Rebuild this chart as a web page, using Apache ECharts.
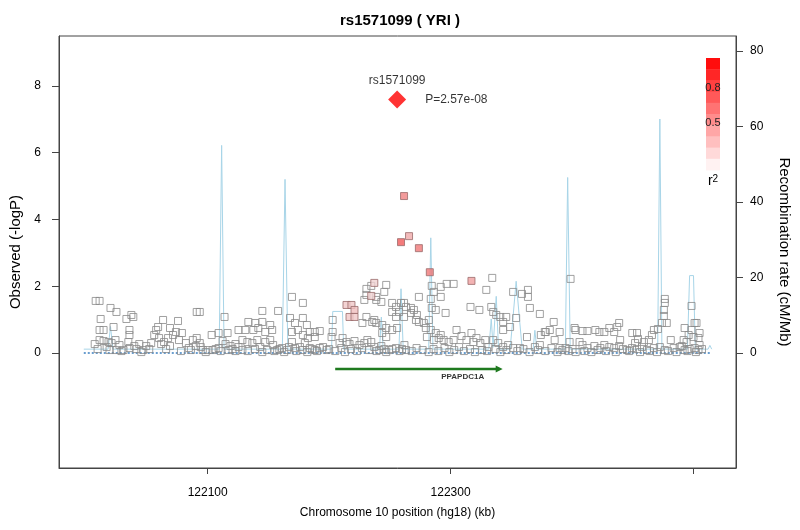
<!DOCTYPE html>
<html><head><meta charset="utf-8">
<script src="https://cdn.jsdelivr.net/npm/echarts@6/dist/echarts.min.js"></script>
<style>html,body{margin:0;padding:0;background:#fff}#c{width:800px;height:530px}</style>
</head><body><div id="c"></div>
<script>
const chartTitle = 'rs1571099 ( YRI )';
const xName = 'Chromosome 10 position (hg18) (kb)';
const yLeftName = 'Observed (-logP)';
const yRightName = 'Recombination rate (cM/Mb)';
const xTicks = [122100, 122300, 122500];
const xLabels = [122100, 122300];
const leftTicks = [0, 2, 4, 6, 8];
const rightTicks = [0, 20, 40, 60, 80];
const r2Labels = ['0.8', '0.5'];

const indexSnp = { name: 'rs1571099', pos: 122256, logP: 7.59, pText: 'P=2.57e-08' };
const gene = { name: 'PPAPDC1A', start: 122205, end: 122340, labelAt: 122310 };

const greySnps = [
[122007.8,1.56],[122011,1.56],[122020,1.35],[122024.9,1.23],[122011.9,1.02],[122033.1,1.02],[122038.8,1.08],
[122011,0.69],[122014.3,0.69],[122022.5,0.78],[122035.6,0.69],[122035.6,0.54],
[122063.3,0.99],[122075.6,0.96],[122091,1.23],[122093.5,1.23],[122113.9,1.08],
[122103.3,0.54],[122109,0.60],[122116.4,0.60],[122125.4,0.69],
[122007,0.27],[122011,0.39],[122014.3,0.36],[122018.4,0.33],[122020.9,0.30],[122024.1,0.39],[122027.4,0.24],[122019.2,0.09],[122024.9,0.09],[122030.7,0.09],[122034.7,0.33],[122035.6,0.15],[122039.6,0.21],[122043.7,0.27],[122047,0.09],[122049.4,0.21],[122053.5,0.30],[122056,0.54],[122057.6,0.69],[122059.2,0.78],[122060,0.45],[122061.7,0.27],[122064.1,0.33],[122067.4,0.45],[122069,0.75],[122071.5,0.54],[122073.9,0.63],[122076.4,0.39],[122078.8,0.60],[122082.1,0.30],[122084.5,0.15],[122087.8,0.39],[122091,0.45],[122093.5,0.30],[122096,0.09],[122100,0.09],[122104.1,0.09],[122106.6,0.12],[122109,0.15],[122112.3,0.36],[122114.7,0.27],[122117.2,0.09],[122120.5,0.12],[122122.9,0.27],[122125.4,0.18],[122128.6,0.09],
[122009.4,0.12],[122016.8,0.18],[122029,0.06],[122041.3,0.12],[122045.4,0.03],[122051.9,0.12],[122065.8,0.12],[122069,0.21],[122078,0.06],[122086.2,0.09],[122090.2,0.21],[122094.3,0.18],[122098.4,0.03],[122110.7,0.06],[122118.8,0.21],[122122.9,0.06],[122037.2,1.14],
[122169.4,1.68],[122178.4,1.50],[122145,1.26],[122158,1.26],
[122133.5,0.93],[122139.2,0.90],[122145,0.93],[122151.5,0.84],
[122131,0.69],[122137.6,0.69],[122141.7,0.75],[122147.4,0.63],[122153.1,0.69],
[122167.8,1.05],[122171.9,0.90],[122178.4,1.05],[122181.7,0.84],[122184.1,0.63],[122188.2,0.63],[122192.3,0.66],
[122169.4,0.63],[122174.3,0.69],[122178.4,0.54],[122182.5,0.45],[122188.2,0.48],
[122128.6,0.39],[122132.7,0.33],[122136.8,0.30],[122140.9,0.39],[122143.3,0.18],[122147.4,0.33],[122151.5,0.39],[122153.9,0.24],[122157.2,0.09],[122161.3,0.15],[122165.4,0.09],[122169.4,0.33],[122171.9,0.15],[122176,0.18],[122180,0.30],[122184.1,0.15],[122188.2,0.09],[122192.3,0.15],[122198,0.09],
[122202.9,0.99],[122202.9,0.63],[122202,0.48],[122208.6,0.30],[122211.1,0.45],[122214.3,0.33],[122216.8,0.27],[122220.9,0.36],[122225,0.24],[122229,0.30],[122231.5,0.39],[122234.7,0.33],[122237.2,0.18],[122241.3,0.09],[122245.4,0.12],[122249.4,0.09],[122255.1,0.15],[122260,0.12],[122263.3,0.09],
[122230.7,1.92],[122234.7,2.01],[122230.7,1.74],[122238.8,1.68],[122247,2.04],[122245.4,1.83],[122229,1.59],[122238.8,1.59],[122243,1.53],
[122227.4,0.90],[122237.2,0.99],[122238.8,0.90],[122243.7,0.84],[122247,0.75],[122251.9,0.69],[122256,0.75],[122243.7,0.60],[122247,0.48],[122230.7,1.08],[122235.5,0.93],
[122251.9,1.50],[122255.1,1.38],[122259.2,1.50],[122257.6,1.23],[122261.7,1.08],[122255.1,1.08],[122251.9,1.23],[122263.3,1.38],
[122133,0.06],[122139,0.12],[122145,0.03],[122149,0.09],[122155,0.06],[122159,0.12],[122163,0.03],[122167,0.18],[122173,0.06],[122178,0.09],[122182,0.03],[122186,0.12],[122190,0.06],[122195,0.18],[122200,0.12],[122205,0.06],[122210,0.15],[122213,0.03],[122218,0.12],[122223,0.06],[122227,0.15],[122233,0.09],[122239,0.06],[122243,0.21],[122247,0.03],[122252,0.12],[122258,0.06],[122262,0.24],
[122334.3,2.25],
[122284.5,2.01],[122286.2,1.83],[122291.9,1.98],[122296.8,2.07],[122302.5,2.07],
[122329.4,1.89],[122351.5,1.83],[122358.8,1.77],[122363.7,1.89],[122363.7,1.68],
[122273.9,1.68],[122283.7,1.62],[122291.9,1.68],[122284.5,1.35],[122287.8,1.29],[122295.9,1.20],[122267.4,1.35],[122261.7,1.50],
[122316.4,1.38],[122323.7,1.29],[122333.5,1.38],[122335.1,1.23],[122337.6,1.14],
[122340.9,1.08],[122345.8,1.08],[122343.3,0.93],[122349,0.78],[122343.3,0.69],[122354,1.05],[122365.3,1.35],[122373.5,1.17],[122384.9,0.93],[122389.8,0.63],[122381.7,0.69],[122378.4,0.63],[122374.3,0.54],
[122269.8,1.29],[122267.4,1.20],[122272.3,1.14],[122271.5,0.99],[122273.9,0.93],[122278,0.90],[122282.1,0.99],
[122279.6,0.75],[122283.7,0.69],[122287.8,0.60],[122291.9,0.54],[122280.5,0.48],[122286.2,0.39],[122290.2,0.45],[122294.3,0.39],[122298.4,0.33],[122302.5,0.39],[122304.9,0.69],[122309,0.51],[122313.1,0.39],[122317.2,0.60],[122318.8,0.33],[122321.3,0.45],[122324.5,0.30],[122328.6,0.39],[122331.1,0.18],[122335.1,0.39],[122339.2,0.30],[122343.3,0.18],[122347.4,0.24],[122351.5,0.15],[122357.2,0.15],[122362.9,0.48],[122369.4,0.18],[122373.5,0.24],[122377.6,0.63],[122385.7,0.39],[122389.8,0.15],[122394.7,0.15],[122398,0.33],
[122268,0.06],[122272,0.15],[122277,0.09],[122282,0.03],[122286,0.12],[122290,0.06],[122295,0.15],[122299,0.03],[122303,0.09],[122307,0.18],[122311,0.06],[122316,0.12],[122320,0.03],[122326,0.09],[122330,0.06],[122337,0.12],[122341,0.03],[122346,0.09],[122355,0.06],[122360,0.12],[122365,0.03],[122372,0.09],[122378,0.06],[122383,0.15],[122388,0.03],[122392,0.09],[122397,0.06],
[122398.8,2.22],[122476.4,1.62],[122476.4,1.50],[122475.6,1.29],[122475.6,1.11],[122478,0.90],[122474,0.90],
[122498.4,1.41],[122500.9,0.90],[122502.5,0.90],[122438.8,0.90],
[122402.1,0.75],[122402.9,0.69],[122408.6,0.66],[122412.7,0.66],[122419.2,0.69],[122422.5,0.63],[122426.6,0.63],[122430.7,0.75],[122434.7,0.63],
[122453.5,0.60],[122467.4,0.69],[122470.7,0.72],[122465.8,0.54],[122463.3,0.39],[122459.2,0.33],[122454.3,0.42],[122451.9,0.30],[122449.6,0.60],[122437.2,0.78],
[122492.7,0.75],[122498.4,0.69],[122505,0.60],[122496,0.54],[122500,0.48],[122504.1,0.45],[122491.9,0.39],[122494.3,0.33],[122481.3,0.39],
[122400.4,0.12],[122406.2,0.33],[122408.6,0.24],[122412.7,0.15],[122418.4,0.21],[122423.3,0.15],[122426.6,0.24],[122430.7,0.18],[122434.7,0.15],[122438.8,0.21],[122439.6,0.39],[122445.3,0.09],[122449.4,0.15],[122453.5,0.12],[122457.6,0.18],[122461.7,0.09],[122467.4,0.15],[122472.3,0.18],[122476.4,0.09],[122483.7,0.15],[122488.6,0.18],[122492.7,0.09],[122496.8,0.12],[122500.9,0.15],[122504.1,0.09],[122505,0.24],[122490.3,0.21],
[122403,0.03],[122410,0.06],[122416,0.03],[122421,0.09],[122428,0.06],[122436,0.03],[122442,0.12],[122447,0.06],[122456,0.03],[122464,0.06],[122470,0.03],[122479,0.06],[122486,0.03],[122495,0.06],[122502,0.03],[122507,0.12]
];

// [position kb, -logP, r2]
const ldSnps = [
[122261.7,4.70,0.55],[122259.2,3.32,0.75],[122265.8,3.50,0.35],[122273.9,3.14,0.6],[122282.9,2.42,0.6],[122317.2,2.16,0.4],
[122214.3,1.44,0.2],[122218.4,1.44,0.2],[122220.9,1.29,0.25],[122216.8,1.08,0.2],[122220.9,1.08,0.2],[122237.2,2.10,0.15],[122234.7,1.71,0.15]
];

// [position kb, cM/Mb]
const recombRate = [
[121998,1],[122018,1],[122020,7],[122022,1],
[122109.5,1],[122111.5,55],[122113.5,1],
[122161.5,1],[122163.7,46],[122166,1],
[122202,1],[122203,11],[122211,11],[122212,1],
[122241.5,1],[122243,9.5],[122244.5,1],
[122257.5,1],[122259.2,17],[122261,1],
[122282,1],[122283.7,30.5],[122285.5,1],
[122331.5,1],[122333.5,9],[122335,1.5],[122337.6,15],[122339.5,1],
[122349,1],[122351,8],[122354,19],[122357,8],[122359,1],
[122368,1],[122369.4,6],[122371,1],
[122394.5,1],[122396.4,46.5],[122398.5,1],
[122470.5,1],[122472.3,62],[122474,1],
[122495,1],[122496.8,20.5],[122500,20.5],[122501.5,1],
[122512,1],[122513.5,2],[122515,1]
];

function r2Color(r2) {
  const g = Math.round(240 - 200 * r2);
  return 'rgb(240,' + g + ',' + g + ')';
}

const FONT = '"Liberation Sans", Arial, Helvetica, sans-serif';
const chart = echarts.init(document.getElementById('c'), null, { renderer: 'canvas' });

const GRID = { left: 57, right: 60, top: 36, bottom: 62 };
const legendBands = [];
const nBands = 10, bandTop = 58, bandH = 11.2, bandX = 706, bandW = 14;
for (let i = 0; i < nBands; i++) {
  const r2 = 1 - (i + 0.5) / nBands;
  const g = Math.round(255 * (1 - r2));
  legendBands.push({ type: 'rect', shape: { x: bandX, y: bandTop + i * bandH, width: bandW, height: bandH + 0.5 },
    style: { fill: 'rgb(255,' + g + ',' + g + ')' }, silent: true });
}

const option = {
  animation: false,
  backgroundColor: '#fff',
  title: { text: chartTitle, left: 'center', top: 8,
    textStyle: { fontFamily: FONT, fontSize: 15, fontWeight: 'bold', color: '#000' } },
  grid: Object.assign({ show: true, borderColor: '#444', borderWidth: 1, backgroundColor: '#fff' }, GRID),
  xAxis: {
    type: 'value', min: 121977.6, max: 122535,
    name: xName, nameLocation: 'middle', nameGap: 39,
    nameTextStyle: { fontFamily: FONT, fontSize: 12, color: '#000' },
    axisLine: { show: true, onZero: false, lineStyle: { color: '#444' } },
    axisTick: { show: true, customValues: xTicks, length: 6, lineStyle: { color: '#444' } },
    axisLabel: { customValues: xLabels, margin: 19, fontFamily: FONT, fontSize: 12, color: '#000', formatter: v => String(v) },
    splitLine: { show: false }
  },
  yAxis: [{
    type: 'value', min: -3.44, max: 9.49, position: 'left',
    name: yLeftName, nameLocation: 'middle', nameGap: 36,
    nameTextStyle: { fontFamily: FONT, fontSize: 15, color: '#000' },
    axisLine: { show: true, onZero: false, lineStyle: { color: '#444' } },
    axisTick: { show: true, customValues: leftTicks, length: 7, lineStyle: { color: '#444' } },
    axisLabel: { customValues: leftTicks, margin: 18, fontFamily: FONT, fontSize: 12, color: '#000' },
    splitLine: { show: false }
  }, {
    type: 'value', min: -30.5, max: 84, position: 'right',
    name: yRightName, nameLocation: 'middle', nameGap: 41, nameRotate: -90,
    nameTextStyle: { fontFamily: FONT, fontSize: 15, color: '#000' },
    axisLine: { show: true, onZero: false, lineStyle: { color: '#444' } },
    axisTick: { show: true, customValues: rightTicks, length: 7, lineStyle: { color: '#444' } },
    axisLabel: { customValues: rightTicks, margin: 14, fontFamily: FONT, fontSize: 12, color: '#000' },
    splitLine: { show: false }
  }],
  series: [
    { type: 'line', yAxisIndex: 1, data: recombRate, showSymbol: false, silent: true, z: 1,
      lineStyle: { color: '#a8d5e8', width: 1 } },
    { type: 'line', yAxisIndex: 1, data: [[recombRate[0][0], 0], [recombRate[recombRate.length - 1][0], 0]],
      showSymbol: false, silent: true, z: 2, lineStyle: { color: '#3a7fc0', width: 1.5, type: [2, 2] } },
    { type: 'scatter', yAxisIndex: 0, data: greySnps, symbol: 'rect', symbolSize: 7, silent: true, z: 3,
      itemStyle: { color: 'rgba(255,255,255,0)', borderColor: '#8a8a8a', borderWidth: 1 } },
    { type: 'scatter', yAxisIndex: 0, symbol: 'rect', symbolSize: 7, silent: true, z: 4,
      data: ldSnps.map(d => ({ value: [d[0], d[1]], itemStyle: { color: r2Color(d[2]), borderColor: '#9a6a6a', borderWidth: 1 } })) },
    { type: 'scatter', yAxisIndex: 0, symbol: 'diamond', symbolSize: [18, 18], silent: true, z: 5,
      itemStyle: { color: '#ff0000' },
      data: [{ value: [indexSnp.pos, indexSnp.logP], name: indexSnp.name }],
      label: { show: true, position: 'top', distance: 4, formatter: '{b}', fontFamily: FONT, fontSize: 12, color: '#000' } },
    { type: 'scatter', yAxisIndex: 0, symbol: 'diamond', symbolSize: [18, 18], silent: true, z: 5,
      itemStyle: { color: 'rgba(0,0,0,0)' },
      data: [{ value: [indexSnp.pos, indexSnp.logP], name: indexSnp.pText }],
      label: { show: true, position: 'right', distance: 19, formatter: '{b}', fontFamily: FONT, fontSize: 12, color: '#000' } },
    { type: 'line', yAxisIndex: 0, silent: true, z: 5, showSymbol: true,
      lineStyle: { color: '#1f7a1f', width: 2.5 }, itemStyle: { color: '#1f7a1f' },
      data: [{ value: [gene.start, -0.48], symbol: 'none' },
             { value: [gene.end, -0.48], symbol: 'triangle', symbolRotate: -90, symbolSize: [7, 7] }] },
    { type: 'scatter', yAxisIndex: 0, symbolSize: 0, silent: true, z: 5,
      data: [{ value: [gene.labelAt, -0.72], name: gene.name }],
      label: { show: true, position: 'inside', formatter: '{b}', fontFamily: FONT, fontSize: 8, fontWeight: 'bold', color: '#000' } }
  ],
  graphic: legendBands.concat([
    { type: 'text', x: 713, y: 88, silent: true, style: { text: r2Labels[0], align: 'center', verticalAlign: 'middle', font: '11px ' + FONT, fill: '#222' } },
    { type: 'text', x: 713, y: 123, silent: true, style: { text: r2Labels[1], align: 'center', verticalAlign: 'middle', font: '11px ' + FONT, fill: '#222' } },
    { type: 'text', x: 713, y: 181, silent: true, style: { text: '{a|r}{s|2}', align: 'center', verticalAlign: 'middle',
      rich: { a: { fontSize: 14, fontFamily: FONT, fill: '#000', verticalAlign: 'bottom' }, s: { fontSize: 10, fontFamily: FONT, fill: '#000', verticalAlign: 'top' } } } }
  ])
};
chart.setOption(option);
</script></body></html>
